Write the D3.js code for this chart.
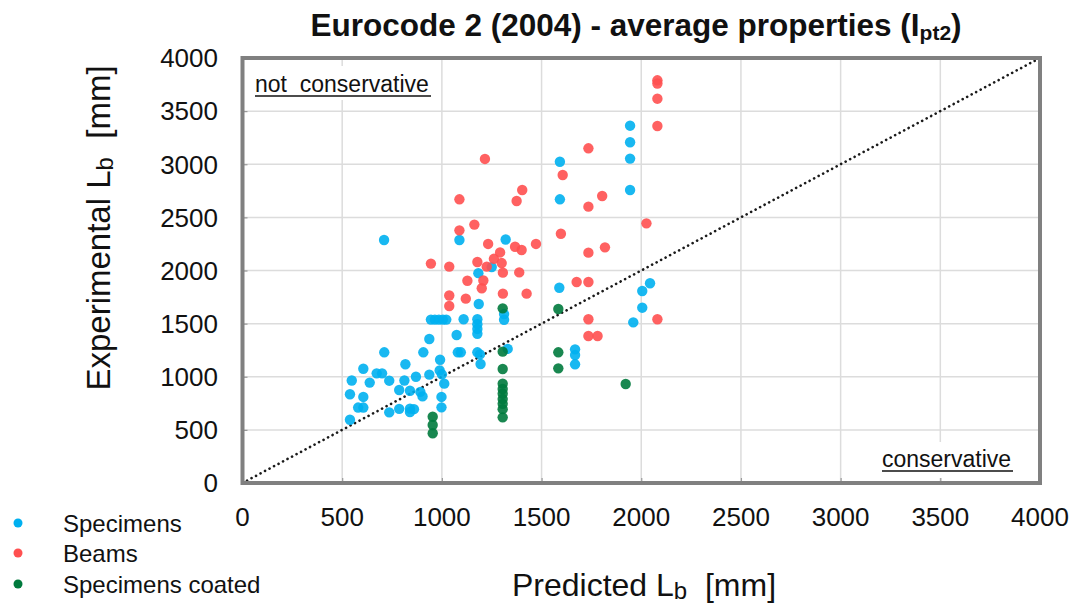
<!DOCTYPE html>
<html>
<head>
<meta charset="utf-8">
<script src="https://cdn.jsdelivr.net/npm/d3@7"></script>
<style>
  html, body { margin: 0; padding: 0; background: #fff; }
  svg { display: block; font-family: "Liberation Sans", Arial, sans-serif; }
</style>
</head>
<body>
<svg id="chart" width="1077" height="603"></svg>
<script>
// ---- Data ----
const xTicks = [0, 500, 1000, 1500, 2000, 2500, 3000, 3500, 4000];
const yTicks = [0, 500, 1000, 1500, 2000, 2500, 3000, 3500, 4000];

const seriesNames = ["Specimens", "Beams", "Specimens coated"];
const seriesColors = ["#00b0f0", "#ff5050", "#007a3d"];

// Specimens: [predicted, experimental]
const specimens = [
  [548, 965], [539, 835], [539, 595], [606, 1075], [606, 810], [606, 710], [580, 710],
  [638, 945], [673, 1032], [700, 1032], [711, 1230], [736, 963], [736, 665],
  [786, 875], [786, 698], [812, 965], [817, 1118], [840, 868], [840, 700], [860, 695],
  [840, 668], [870, 1000], [892, 858], [903, 815], [907, 1230], [937, 1355], [937, 1020],
  [991, 1160], [989, 1060], [1000, 1023], [1012, 935], [998, 810], [998, 712],
  [1074, 1393], [1080, 1230], [1095, 1230],
  [945, 1538], [965, 1538], [985, 1538], [1005, 1538], [1022, 1538],
  [1109, 1541], [1178, 1541], [1178, 1495], [1178, 1450], [1178, 1405],
  [1178, 1230], [1191, 1210], [1194, 1120], [1185, 1685], [1183, 1975], [1250, 2032],
  [1312, 1590], [1312, 1536], [1330, 1262], [1320, 2292], [1088, 2287], [710, 2287],
  [1589, 1838], [1592, 2670], [1592, 3024],
  [1668, 1258], [1668, 1205], [1668, 1117],
  [1944, 3363], [1944, 3207], [1944, 3053], [1944, 2758],
  [2044, 1880], [2005, 1807], [2005, 1650], [1960, 1512]
];

// Beams: [predicted, experimental]
const beams = [
  [945, 2065], [1037, 2036], [1037, 1765], [1037, 1666], [1088, 2670], [1088, 2378],
  [1120, 1735], [1128, 1904], [1163, 2432], [1178, 2080], [1200, 1833], [1208, 1906],
  [1216, 3050], [1225, 2036], [1232, 2250], [1261, 2110], [1292, 2170], [1300, 2070],
  [1306, 1980], [1306, 1782], [1367, 2224], [1375, 2654], [1388, 1982], [1400, 2193],
  [1403, 2758], [1425, 1782], [1472, 2250], [1597, 2346], [1606, 2899], [1676, 1892],
  [1735, 1892], [1735, 3150], [1735, 2601], [1735, 2168], [1735, 1541], [1735, 1384],
  [1781, 1384], [1804, 2701], [1818, 2218], [2026, 2444], [2081, 3790], [2081, 3760],
  [2081, 3617], [2081, 3360], [2081, 1541]
];

// Specimens coated: [predicted, experimental]
const coated = [
  [1305, 1644], [1305, 1236], [1305, 1073], [1305, 935], [1305, 885], [1305, 840],
  [1305, 790], [1305, 745], [1305, 695], [1305, 618],
  [954, 624], [954, 546], [954, 468],
  [1584, 1638], [1584, 1230], [1584, 1079], [1922, 932]
];

// ---- Layout ----
const svg = d3.select("#chart");
const pLeft = 242.5, pRight = 1040, pTop = 58, pBottom = 483;

const x = d3.scaleLinear().domain([0, 4000]).range([pLeft, pRight]);
const y = d3.scaleLinear().domain([0, 4000]).range([pBottom, pTop]);

// plot background
svg.append("rect").attr("x", pLeft).attr("y", pTop)
  .attr("width", pRight - pLeft).attr("height", pBottom - pTop).attr("fill", "#fff");

// grid
const grid = svg.append("g");
grid.selectAll("line.v").data(xTicks.slice(1, -1)).join("line")
  .attr("x1", d => x(d)).attr("x2", d => x(d))
  .attr("y1", pTop).attr("y2", pBottom)
  .attr("stroke", "#dcdcdc").attr("stroke-width", 1.5);
grid.selectAll("line.h").data(yTicks.slice(1, -1)).join("line")
  .attr("y1", d => y(d)).attr("y2", d => y(d))
  .attr("x1", pLeft).attr("x2", pRight)
  .attr("stroke", "#dcdcdc").attr("stroke-width", 1.5);

// inner tick marks via axes
const yAxis = d3.axisLeft(y).tickValues(yTicks).tickSize(-5).tickFormat("");
const xAxis = d3.axisBottom(x).tickValues(xTicks).tickSize(-5).tickFormat("");
const ya = svg.append("g").attr("transform", `translate(${pLeft},0)`).call(yAxis);
const xa = svg.append("g").attr("transform", `translate(0,${pBottom})`).call(xAxis);
[ya, xa].forEach(g => {
  g.select(".domain").remove();
  g.selectAll(".tick line").attr("stroke", "#9a9a9a").attr("stroke-width", 1.2);
});

// annotation boxes (white backgrounds)
svg.append("rect").attr("x", 250).attr("y", 66).attr("width", 186).attr("height", 34).attr("fill", "#fff");
svg.append("rect").attr("x", 876).attr("y", 442).attr("width", 144).attr("height", 36).attr("fill", "#fff");

// diagonal 1:1 line
svg.append("line")
  .attr("x1", x(0)).attr("y1", y(0)).attr("x2", x(4000)).attr("y2", y(4000))
  .attr("stroke", "#1a1a1a").attr("stroke-width", 2.6)
  .attr("stroke-linecap", "round").attr("stroke-dasharray", "0.1,5");

// points
const allSeries = [specimens, beams, coated];
allSeries.forEach((data, i) => {
  svg.append("g").selectAll("circle").data(data).join("circle")
    .attr("cx", d => x(d[0])).attr("cy", d => y(d[1]))
    .attr("r", 5.2)
    .attr("fill", seriesColors[i]).attr("fill-opacity", 0.9);
});

// frame
svg.append("rect").attr("x", pLeft).attr("y", pTop)
  .attr("width", pRight - pLeft).attr("height", pBottom - pTop)
  .attr("fill", "none").attr("stroke", "#808080").attr("stroke-width", 4);

// tick labels
svg.append("g").selectAll("text").data(yTicks).join("text")
  .attr("x", 218).attr("y", d => y(d)).attr("dy", "0.36em")
  .attr("text-anchor", "end").attr("font-size", 26).attr("fill", "#111")
  .text(d => d);
svg.append("g").selectAll("text").data(xTicks).join("text")
  .attr("x", d => x(d)).attr("y", 517).attr("dy", "0.36em")
  .attr("text-anchor", "middle").attr("font-size", 26).attr("fill", "#111")
  .text(d => d);

// annotations
svg.append("text").attr("x", 255).attr("y", 92)
  .attr("font-size", 23).attr("fill", "#111")
  .style("white-space", "pre")
  .text("not  conservative");
svg.append("line").attr("x1", 255).attr("x2", 431).attr("y1", 96).attr("y2", 96)
  .attr("stroke", "#111").attr("stroke-width", 1.5);
svg.append("text").attr("x", 882).attr("y", 467)
  .attr("font-size", 23).attr("fill", "#111").text("conservative");
svg.append("line").attr("x1", 882).attr("x2", 1013).attr("y1", 471).attr("y2", 471)
  .attr("stroke", "#111").attr("stroke-width", 1.5);

// title
const title = svg.append("text").attr("x", 636).attr("y", 36)
  .attr("text-anchor", "middle").attr("font-size", 31.5).attr("font-weight", "bold")
  .attr("fill", "#111");
title.append("tspan").text("Eurocode 2 (2004) - average properties (I");
title.append("tspan").attr("font-size", 21).attr("dy", 4).text("pt2");
title.append("tspan").attr("dy", -4).text(")");

// axis titles
const yt = svg.append("text").attr("transform", "translate(110,228) rotate(-90)")
  .attr("text-anchor", "middle").attr("font-size", 33).attr("fill", "#111")
  .style("white-space", "pre");
yt.append("tspan").text("Experimental L");
yt.append("tspan").attr("font-size", 24).attr("dy", 3).text("b");
yt.append("tspan").attr("dy", -3).text("  [mm]");

const xt = svg.append("text").attr("x", 644).attr("y", 596)
  .attr("text-anchor", "middle").attr("font-size", 32).attr("fill", "#111")
  .style("white-space", "pre");
xt.append("tspan").text("Predicted L");
xt.append("tspan").attr("font-size", 24).attr("dy", 3).text("b");
xt.append("tspan").attr("dy", -3).text("  [mm]");

// legend
const legendY = [523, 553, 584];
const lg = svg.append("g");
seriesNames.forEach((name, i) => {
  lg.append("circle").attr("cx", 18).attr("cy", legendY[i]).attr("r", 4.5).attr("fill", seriesColors[i]);
  lg.append("text").attr("x", 63).attr("y", legendY[i]).attr("dy", "0.36em")
    .attr("font-size", 24).attr("fill", "#111").text(name);
});
</script>
</body>
</html>
